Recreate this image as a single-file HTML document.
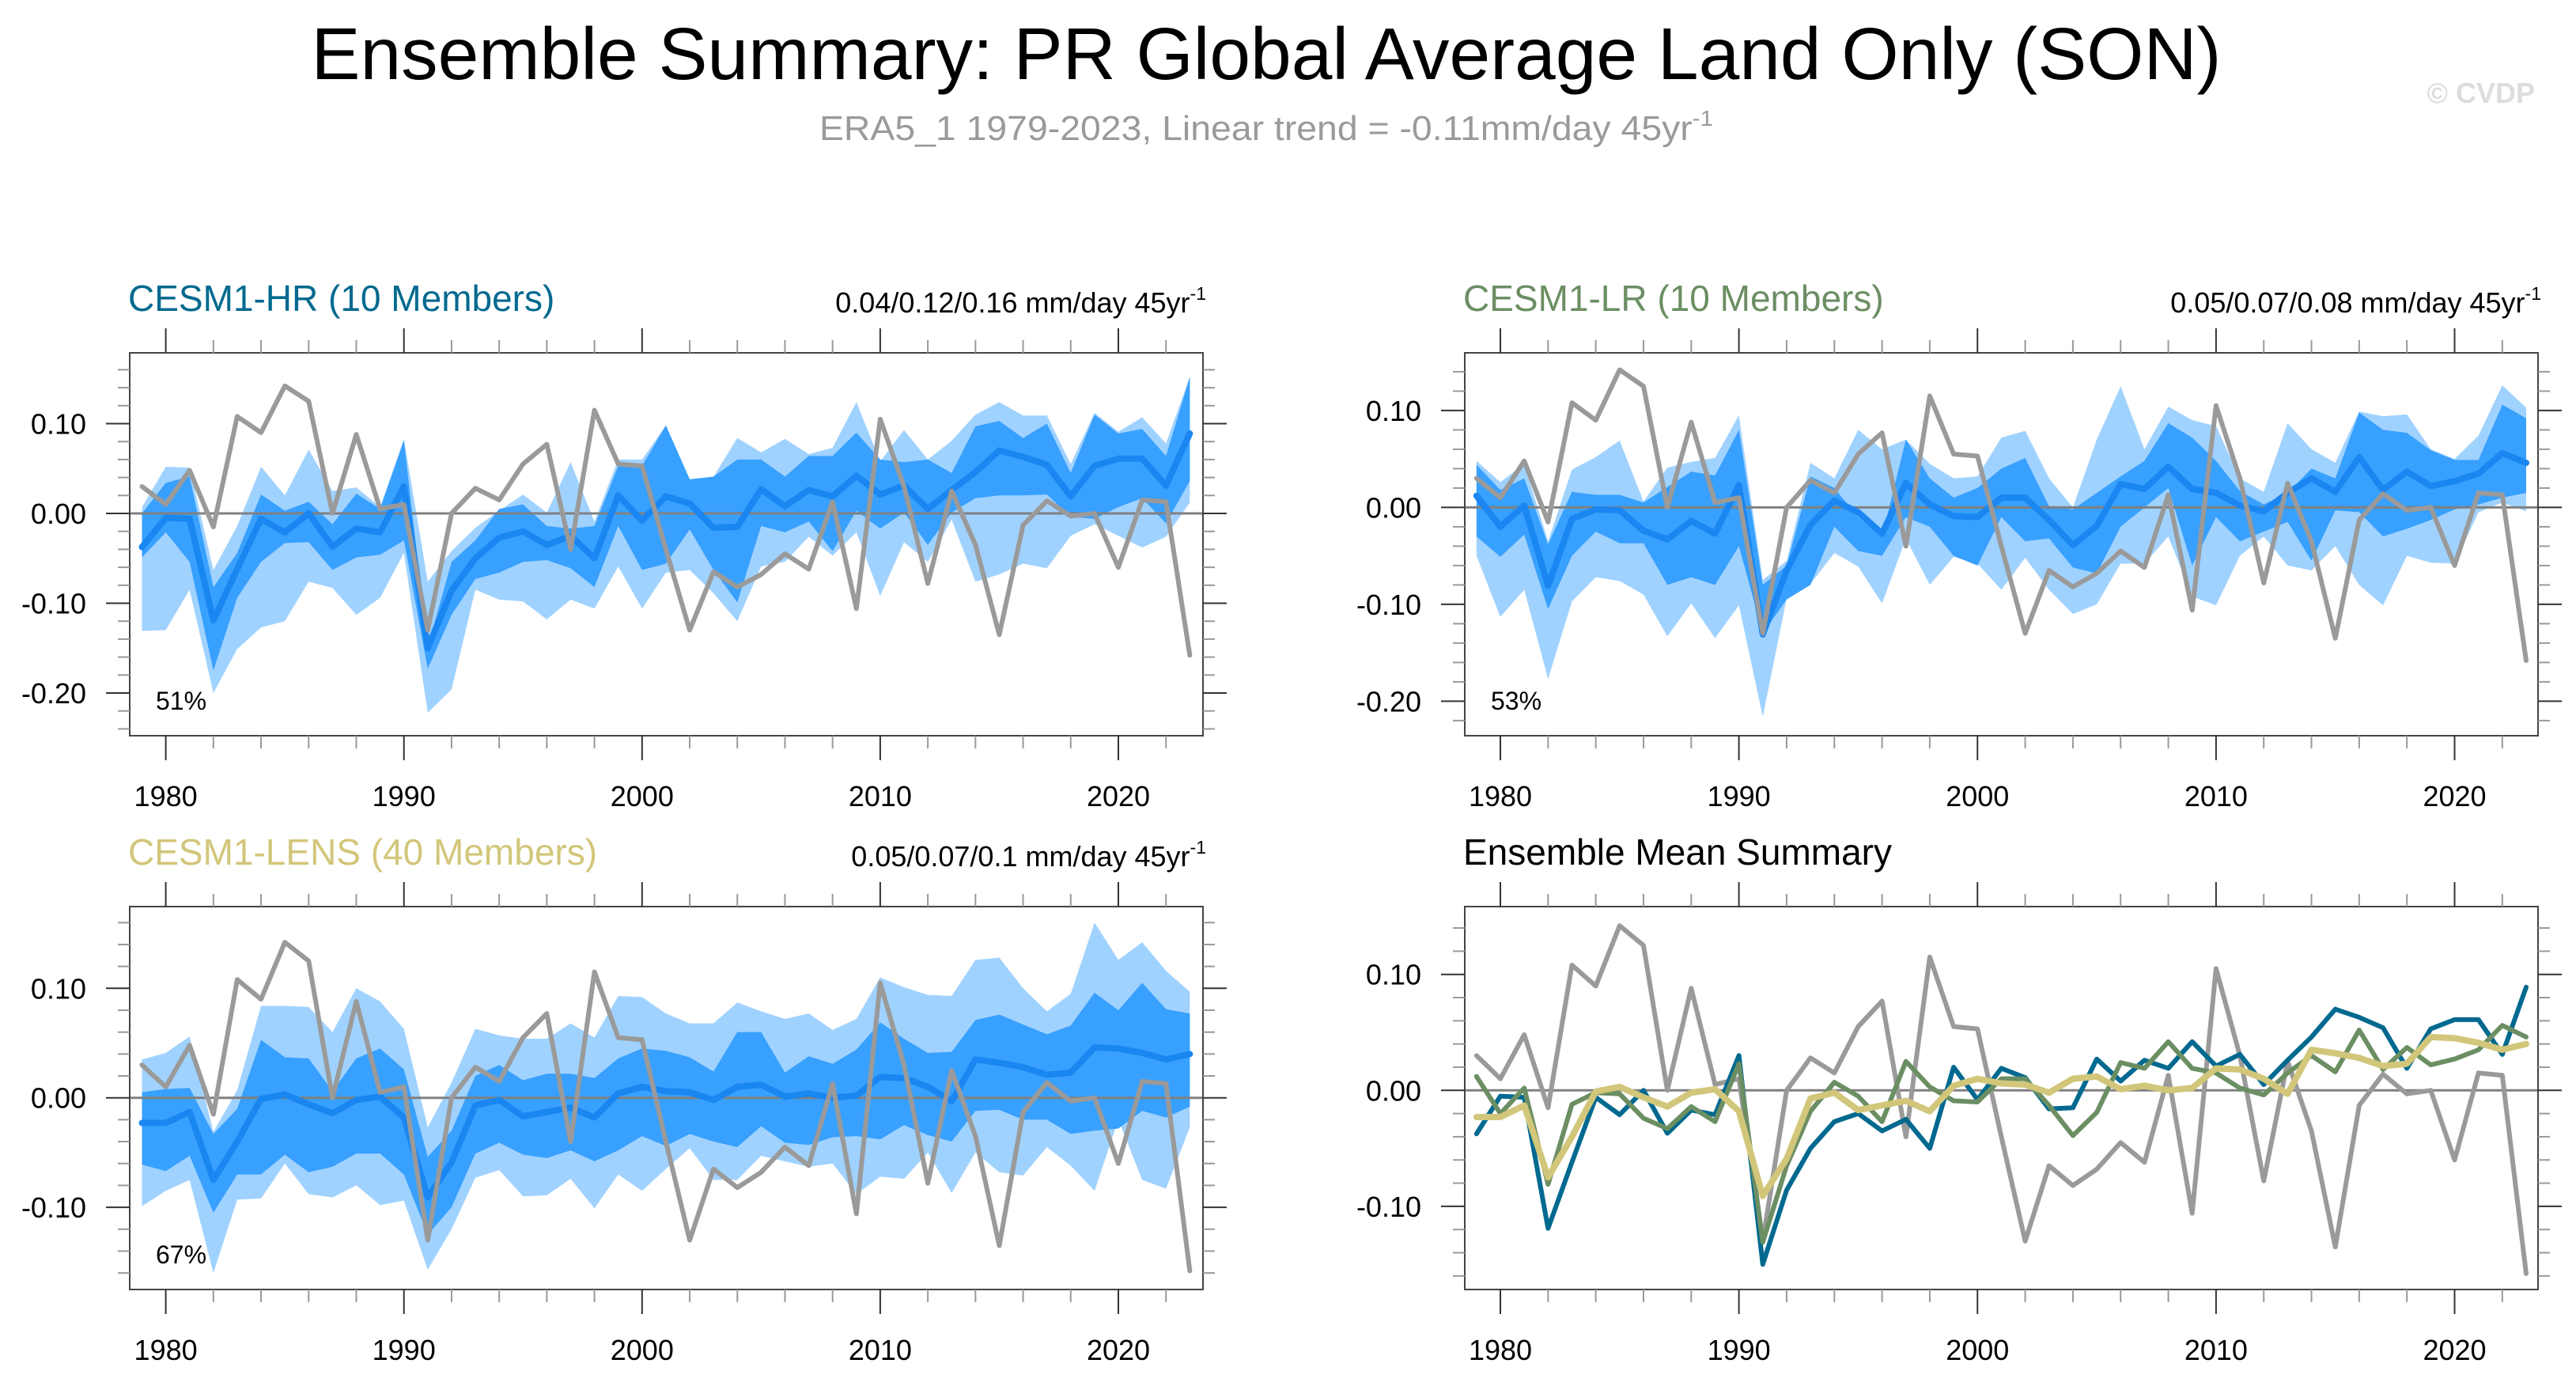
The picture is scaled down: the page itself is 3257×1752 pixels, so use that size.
<!DOCTYPE html>
<html><head><meta charset="utf-8">
<style>
html,body{margin:0;padding:0;background:#fff;}
svg{display:block;}
text{font-family:"Liberation Sans",Arial,sans-serif;}
</style></head>
<body>
<svg id="chart" xmlns="http://www.w3.org/2000/svg" width="3257" height="1752" viewBox="0 0 3257 1752">
<text x="1601" y="100" font-size="93" text-anchor="middle" textLength="2415" lengthAdjust="spacingAndGlyphs" fill="#000">Ensemble Summary: PR Global Average Land Only (SON)</text>
<text x="1036" y="177" font-size="44" fill="#9a9a9a" textLength="1130" lengthAdjust="spacingAndGlyphs">ERA5_1 1979-2023, Linear trend = -0.11mm/day 45yr<tspan font-size="28" dy="-18">-1</tspan></text>
<text x="3205" y="130" font-size="36" font-weight="bold" fill="#dddddd" text-anchor="end">© CVDP</text>
</svg>
<script>
const years=[];for(let y=1979;y<=2023;y++)years.push(y);
const obs=[0.03,0.01,0.048,-0.015,0.108,0.09,0.142,0.125,0.0,0.088,0.005,0.01,-0.13,0.0,0.028,0.015,0.055,0.077,-0.04,0.115,0.055,0.053,-0.04,-0.13,-0.065,-0.082,-0.068,-0.045,-0.062,0.013,-0.106,0.105,0.03,-0.078,0.025,-0.035,-0.135,-0.013,0.014,-0.003,0.0,-0.06,0.015,0.013,-0.158];
const hrMean=[-0.0375,-0.005,-0.006,-0.119,-0.062,-0.006,-0.021,0,-0.037,-0.017,-0.021,0.03,-0.15,-0.086,-0.05,-0.027,-0.02,-0.035,-0.025,-0.05,0.02,-0.008,0.019,0.011,-0.016,-0.015,0.027,0.008,0.026,0.019,0.042,0.021,0.031,0.005,0.026,0.046,0.07,0.063,0.054,0.019,0.053,0.061,0.061,0.031,0.089];
const hrLU=[0.007,0.052,0.051,-0.063,-0.014,0.052,0.02,0.071,0.025,0.029,0.007,0.083,-0.076,-0.042,-0.016,0.003,0.021,0.001,0.057,-0.009,0.06,0.06,0.098,0.038,0.041,0.084,0.068,0.083,0.066,0.073,0.124,0.058,0.093,0.06,0.081,0.11,0.124,0.109,0.109,0.055,0.112,0.091,0.107,0.078,0.152];
const hrDU=[0,0.034,0.041,-0.082,-0.044,0.021,0.003,0.013,-0.012,0.022,0.005,0.081,-0.149,-0.054,-0.03,0.005,0.01,-0.014,-0.017,-0.014,0.053,0.053,0.098,0.038,0.041,0.06,0.06,0.041,0.064,0.064,0.09,0.06,0.057,0.06,0.045,0.097,0.103,0.084,0.1,0.045,0.11,0.089,0.094,0.064,0.152];
const hrDL=[-0.049,-0.021,-0.054,-0.175,-0.094,-0.054,-0.033,-0.032,-0.063,-0.049,-0.046,-0.03,-0.173,-0.113,-0.073,-0.066,-0.054,-0.052,-0.061,-0.082,-0.014,-0.063,-0.056,-0.018,-0.063,-0.099,-0.014,-0.021,-0.009,-0.042,0.003,-0.017,0.001,-0.035,0.001,0.017,0.02,0.02,0.021,-0.004,-0.006,0.007,0.017,-0.011,0.036];
const hrLL=[-0.131,-0.13,-0.085,-0.2,-0.151,-0.127,-0.12,-0.076,-0.083,-0.113,-0.094,-0.044,-0.222,-0.196,-0.085,-0.096,-0.098,-0.118,-0.096,-0.106,-0.059,-0.106,-0.066,-0.063,-0.089,-0.12,-0.059,-0.054,-0.026,-0.047,-0.021,-0.092,-0.032,-0.054,-0.007,-0.076,-0.068,-0.056,-0.061,-0.025,-0.012,-0.025,-0.038,-0.026,0.012];
const lrMean=[0.012,-0.02,0.002,-0.081,-0.012,-0.002,-0.003,-0.024,-0.033,-0.014,-0.027,0.023,-0.131,-0.065,-0.018,0.007,-0.005,-0.027,0.025,0.003,-0.009,-0.01,0.01,0.01,-0.013,-0.039,-0.019,0.024,0.019,0.042,0.019,0.015,0.002,-0.004,0.015,0.03,0.016,0.052,0.018,0.037,0.022,0.027,0.035,0.056,0.046];
const lrLU=[0.048,0.026,0.045,-0.035,0.039,0.052,0.069,0.006,0.041,0.047,0.051,0.095,-0.075,-0.055,0.046,0.03,0.08,0.06,0.07,0.045,0.03,0.032,0.072,0.079,0.03,0.0,0.07,0.125,0.06,0.104,0.09,0.084,0.03,0.016,0.087,0.06,0.046,0.099,0.094,0.096,0.06,0.05,0.074,0.126,0.103];
const lrDU=[0.044,0.018,0.03,-0.038,0.016,0.013,0.013,0.005,0.021,0.037,0.033,0.08,-0.08,-0.06,0.032,0.02,-0.01,-0.03,0.07,0.03,0.01,0.02,0.04,0.051,0.001,-0.002,0.015,0.032,0.048,0.087,0.072,0.048,0.017,0.003,0.015,0.04,0.03,0.098,0.08,0.077,0.059,0.049,0.049,0.106,0.092];
const lrDL=[-0.03,-0.051,-0.028,-0.105,-0.05,-0.025,-0.037,-0.037,-0.08,-0.072,-0.08,-0.04,-0.13,-0.095,-0.08,-0.02,-0.045,-0.05,-0.01,-0.02,-0.05,-0.06,-0.01,-0.035,-0.032,-0.062,-0.068,-0.02,0,0.02,-0.06,-0.01,-0.035,-0.025,-0.015,-0.055,-0.003,-0.005,-0.03,-0.022,-0.013,-0.002,0.003,0.01,0.015];
const lrLL=[-0.05,-0.113,-0.085,-0.177,-0.097,-0.072,-0.076,-0.09,-0.133,-0.099,-0.135,-0.101,-0.216,-0.094,-0.079,-0.047,-0.061,-0.099,-0.032,-0.08,-0.051,-0.058,-0.085,-0.052,-0.085,-0.11,-0.1,-0.058,-0.058,-0.03,-0.092,-0.101,-0.05,-0.03,-0.06,-0.065,-0.04,-0.08,-0.101,-0.05,-0.057,-0.058,-0.005,0.005,-0.004];
const lensMean=[-0.023,-0.023,-0.013,-0.075,-0.04,-0.001,0.003,-0.006,-0.014,-0.002,0.001,-0.018,-0.091,-0.059,-0.007,-0.002,-0.017,-0.013,-0.009,-0.018,0.004,0.01,0.006,0.005,-0.002,0.01,0.012,0.001,0.004,0,0.002,0.019,0.018,0.01,-0.003,0.035,0.032,0.028,0.021,0.023,0.046,0.045,0.041,0.035,0.04];
const lensLU=[0.035,0.041,0.056,-0.031,0.007,0.084,0.084,0.083,0.06,0.1,0.088,0.063,-0.027,0.014,0.063,0.057,0.054,0.054,0.068,0.055,0.093,0.092,0.077,0.068,0.068,0.087,0.079,0.072,0.077,0.062,0.072,0.11,0.101,0.094,0.093,0.126,0.128,0.1,0.079,0.095,0.16,0.126,0.142,0.116,0.097];
const lensDU=[0.005,0.008,0.009,-0.033,-0.01,0.053,0.037,0.036,0.006,0.036,0.045,0.026,-0.054,-0.03,0.02,0.03,0.016,0.022,0.022,0.018,0.036,0.045,0.043,0.037,0.024,0.06,0.06,0.023,0.038,0.031,0.044,0.069,0.054,0.041,0.042,0.071,0.076,0.067,0.058,0.066,0.096,0.08,0.105,0.081,0.077];
const lensDL=[-0.061,-0.067,-0.053,-0.105,-0.07,-0.07,-0.052,-0.068,-0.063,-0.051,-0.051,-0.07,-0.125,-0.1,-0.051,-0.041,-0.052,-0.055,-0.048,-0.058,-0.048,-0.035,-0.044,-0.033,-0.04,-0.045,-0.026,-0.041,-0.043,-0.036,-0.035,-0.038,-0.025,-0.034,-0.04,-0.012,-0.011,-0.02,-0.02,-0.033,-0.03,-0.028,-0.012,-0.018,-0.008];
const lensLL=[-0.099,-0.085,-0.075,-0.16,-0.093,-0.092,-0.06,-0.088,-0.091,-0.08,-0.098,-0.094,-0.157,-0.12,-0.073,-0.066,-0.09,-0.089,-0.074,-0.101,-0.07,-0.085,-0.065,-0.046,-0.075,-0.075,-0.053,-0.058,-0.063,-0.06,-0.088,-0.072,-0.074,-0.05,-0.087,-0.05,-0.068,-0.071,-0.045,-0.062,-0.085,-0.02,-0.075,-0.083,-0.027];
const xTickLabels=["1980","1990","2000","2010","2020"];
const yTickLabelsA=["0.10","0.00","-0.10","-0.20"];
const yTickLabelsB=["0.10","0.00","-0.10"];

const NS="http://www.w3.org/2000/svg";
const svg=document.getElementById('chart');
function mk(tag,attrs,parent){const e=document.createElementNS(NS,tag);for(const k in attrs)e.setAttribute(k,attrs[k]);(parent||svg).appendChild(e);return e;}

const panels=[
 {name:'cesm1-hr',left:164,right:1521,top:446,bottom:930,x80:209.6,x20:1414,y0:649,yPer:113.5,yMin:-0.24,yMax:0.18,yticks:[0.1,0,-0.1,-0.2],ylabels:yTickLabelsA,
  title:'CESM1-HR (10 Members)',tcol:'#00698f',trend:'0.04/0.12/0.16 mm/day 45yr',pct:'51%',bands:[hrLU,hrDU,hrDL,hrLL],mean:hrMean},
 {name:'cesm1-lr',left:1852,right:3209,top:446,bottom:930,x80:1897,x20:3103.5,y0:641.4,yPer:122.5,yMin:-0.235,yMax:0.159,yticks:[0.1,0,-0.1,-0.2],ylabels:yTickLabelsA,
  title:'CESM1-LR (10 Members)',tcol:'#6b8e63',trend:'0.05/0.07/0.08 mm/day 45yr',pct:'53%',bands:[lrLU,lrDU,lrDL,lrLL],mean:lrMean},
 {name:'cesm1-lens',left:164,right:1521,top:1146,bottom:1630,x80:209.6,x20:1414,y0:1387.7,yPer:138.4,yMin:-0.175,yMax:0.175,yticks:[0.1,0,-0.1],ylabels:yTickLabelsB,
  title:'CESM1-LENS (40 Members)',tcol:'#d2c67a',trend:'0.05/0.07/0.1 mm/day 45yr',pct:'67%',bands:[lensLU,lensDU,lensDL,lensLL],mean:lensMean},
 {name:'ensemble-mean-summary',left:1852,right:3209,top:1146,bottom:1630,x80:1897,x20:3103.5,y0:1378.3,yPer:146.6,yMin:-0.17,yMax:0.16,yticks:[0.1,0,-0.1],ylabels:yTickLabelsB,
  title:'Ensemble Mean Summary',tcol:'#000',trend:null,pct:null,summary:true}
];

panels.forEach(p=>{
 const g=mk('g',{});
 
 
 const X=yr=>p.x80+(yr-1980)*(p.x20-p.x80)/40;
 const Y=v=>p.y0-v*p.yPer/0.1;
 const t=mk('text',{x:p.left-2,y:393+(p.top-446),'font-size':46,fill:p.tcol},g);
 t.textContent=p.title;
 
 
 if(p.trend){
  const tr=mk('text',{x:p.right+4,y:395+(p.top-446),'font-size':36,fill:'#000','text-anchor':'end'},g);
  
  
  tr.appendChild(document.createTextNode(p.trend));
  const sp=mk('tspan',{'font-size':23,dy:-16},tr);sp.textContent='-1';
 }
 const clipId='clip-'+p.name;
 const cp=mk('clipPath',{id:clipId},g);mk('rect',{x:p.left,y:p.top,width:p.right-p.left,height:p.bottom-p.top},cp);
 const inner=mk('g',{'clip-path':'url(#'+clipId+')'},g);
 function poly(up,lo,fill,name){
  let pts=years.map((yr,i)=>X(yr)+','+Y(up[i]));
  for(let i=years.length-1;i>=0;i--)pts.push(X(years[i])+','+Y(lo[i]));
  const e=mk('polygon',{points:pts.join(' '),fill:fill},inner);
  
  
 }
 function line(vals,col,w,name){
  const e=mk('polyline',{points:years.map((yr,i)=>X(yr)+','+Y(vals[i])).join(' '),fill:'none',stroke:col,'stroke-width':w,'stroke-linejoin':'round','stroke-linecap':'round'},inner);
  
  
 }
 if(!p.summary){
  poly(p.bands[0],p.bands[3],'#a0d2ff','range-band');
  poly(p.bands[1],p.bands[2],'#38a0fe','interquartile-band');
 }
 const zl=mk('line',{x1:p.left,x2:p.right,y1:Y(0),y2:Y(0),stroke:'#808080','stroke-width':3},inner);
 
 
 if(!p.summary){
  line(p.mean,'#1a86f2',8,'ensemble-mean-line');
  line(obs,'#9a9a9a',6,'observed-line');
  const pc=mk('text',{x:p.left+33,y:p.bottom-33,'font-size':32,fill:'#000'},g);
  pc.textContent=p.pct;
  
  
 } else {
  line(obs,'#9a9a9a',6,'observed-line');
  line(hrMean,'#00698f',6,'cesm1-hr-mean-line');
  line(lrMean,'#6b8e63',6,'cesm1-lr-mean-line');
  line(lensMean,'#d2c67a',8,'cesm1-lens-mean-line');
 }
 const fr=mk('rect',{x:p.left,y:p.top,width:p.right-p.left,height:p.bottom-p.top,fill:'none',stroke:'#444','stroke-width':2},g);
 
 
 for(let yr=1980;yr<=2022;yr+=2){
  const maj=yr%10===0,len=maj?31:16,x=X(yr);
  mk('line',{x1:x,x2:x,y1:p.bottom,y2:p.bottom+len,stroke:maj?'#333':'#999','stroke-width':2},g);
  mk('line',{x1:x,x2:x,y1:p.top,y2:p.top-len,stroke:maj?'#333':'#999','stroke-width':2},g);
 }
 xTickLabels.forEach(l=>{
  const tx=mk('text',{x:X(+l),y:p.bottom+89,'font-size':36,'text-anchor':'middle',fill:'#000'},g);
  tx.textContent=l;
  
  
 });
 for(let k=Math.ceil(p.yMin/0.02);k<=Math.floor(p.yMax/0.02);k++){
  const v=k*0.02,maj=k%5===0,len=maj?30:15,y=Y(v);
  if(y<p.top+2||y>p.bottom-2)continue;
  mk('line',{x1:p.left,x2:p.left-len,y1:y,y2:y,stroke:maj?'#333':'#999','stroke-width':2},g);
  mk('line',{x1:p.right,x2:p.right+len,y1:y,y2:y,stroke:maj?'#333':'#999','stroke-width':2},g);
 }
 p.yticks.forEach((v,i)=>{
  const ty=mk('text',{x:p.left-55,y:Y(v)+13,'font-size':36,'text-anchor':'end',fill:'#000'},g);
  ty.textContent=p.ylabels[i];
  
  
 });
});
</script>
</body></html>
